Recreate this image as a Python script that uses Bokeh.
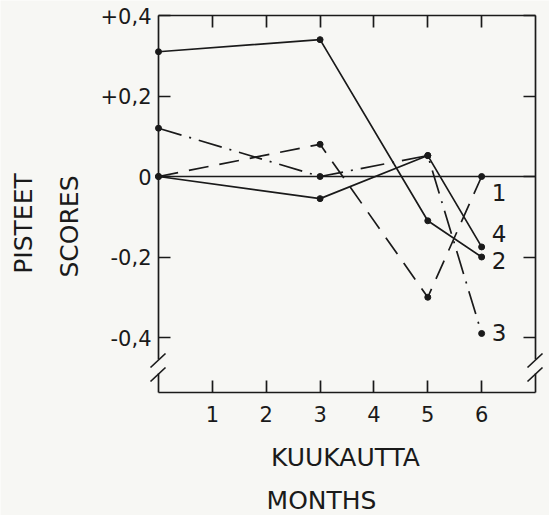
import math
from bokeh.plotting import figure
from bokeh.models import FixedTicker, LinearAxis, Range1d, Label
from bokeh.embed import file_html
from bokeh.resources import INLINE

# ---- data ----
months = [0, 3, 5, 6]
series_names = ["1", "2", "3", "4"]
s1 = [0.0, 0.08, -0.30, 0.0]
s2 = [0.31, 0.34, -0.11, -0.20]
s3 = [0.12, 0.0, 0.052, -0.39]
s4 = [0.0, -0.055, 0.052, -0.175]
x_ticks = [1, 2, 3, 4, 5, 6]
y_ticks = [0.4, 0.2, 0, -0.2, -0.4]
y_tick_labels = ["+0,4", "+0,2", "0", "-0,2", "-0,4"]
x_title = "KUUKAUTTA"
x_title2 = "MONTHS"
y_title = "PISTEET"
y_title2 = "SCORES"

# ---- layout: the frame covers the whole canvas, axes are fixed inside it ----
W, H = 549, 515
FL, FR, FT, FB = 158, 535, 15, 392          # drawn box, pixels
X_MIN, X_MAX = 0, 7
Y_TOP = 0.4
PX_X = (FR - FL) / (X_MAX - X_MIN)
PX_Y = 402.5
Y_BOT = Y_TOP - (FB - FT) / PX_Y
TXT_SHIFT = 10   # label baseline correction, pixels

def xd(px):
    return X_MIN + (px - FL) / PX_X

def yd(py):
    return Y_TOP - (py - FT) / PX_Y

BG = "#f7f7f4"
INK = "#1a1a1a"
FONT = "DejaVu Sans"
LW = 1.7

p = figure(width=W, height=H, x_range=Range1d(xd(0), xd(W)), y_range=Range1d(yd(H), yd(0)),
           output_backend="svg", toolbar_location=None,
           x_axis_location=None, y_axis_location=None,
           min_border_left=0, min_border_right=0, min_border_top=0, min_border_bottom=0)
p.background_fill_color = BG
p.border_fill_color = BG
p.outline_line_color = None
for g in p.grid:
    g.visible = False

gap_hi = yd(359)
gap_lo = yd(373)

def make_axis(ticks, loc, bounds, labels, line=True):
    ax = LinearAxis(ticker=FixedTicker(ticks=ticks), fixed_location=loc, bounds=bounds)
    ax.major_tick_in = 12
    ax.major_tick_out = 0
    ax.minor_tick_line_color = None
    ax.major_tick_line_color = INK
    ax.major_tick_line_width = LW
    ax.axis_line_color = INK if line else None
    ax.axis_line_width = LW
    ax.major_label_text_font = FONT
    if labels:
        ax.major_label_text_font_size = "21px"
        ax.major_label_text_color = INK
    else:
        ax.major_label_text_font_size = "1px"
        ax.major_label_text_color = None
        ax.major_label_standoff = 0
    return ax

bottom = make_axis(x_ticks, Y_BOT, (X_MIN, X_MAX), True)
bottom.major_label_standoff = 13
p.add_layout(bottom, "below")

top = make_axis(x_ticks, Y_TOP, (X_MIN, X_MAX), False)
p.add_layout(top, "above")

left = make_axis(y_ticks, X_MIN, (gap_hi, Y_TOP), True)
left.major_label_overrides = {t: lab for t, lab in zip(y_ticks, y_tick_labels)}
left.major_label_standoff = 7
p.add_layout(left, "left")

right = make_axis(y_ticks, X_MAX, (gap_hi, Y_TOP), False)
p.add_layout(right, "right")

# lower pieces of the broken side lines and the break strokes
p.segment(x0=[X_MIN, X_MAX], y0=[gap_lo, gap_lo], x1=[X_MIN, X_MAX], y1=[Y_BOT, Y_BOT],
          line_color=INK, line_width=LW)
bx0, by0, bx1, by1 = [], [], [], []
for xe in (X_MIN, X_MAX):
    for yc in (360, 374):
        bx0.append(xe - 8 / PX_X); by0.append(yd(yc + 7))
        bx1.append(xe + 7 / PX_X); by1.append(yd(yc - 7))
p.segment(x0=bx0, y0=by0, x1=bx1, y1=by1, line_color=INK, line_width=LW)

# zero reference line across the box
p.line([X_MIN, X_MAX], [0, 0], line_color=INK, line_width=1.5)

# series
dashes = ["20 11", "solid", "24 8 2 8", "solid"]
label_off = [-0.065, -0.034, -0.022, 0.009]
for name, ys, dash, off in zip(series_names, [s1, s2, s3, s4], dashes, label_off):
    p.line(months, ys, line_color=INK, line_width=LW, line_dash=dash)
    p.scatter(months, ys, size=6, color=INK)
    p.add_layout(Label(x=months[-1] + 10 / PX_X, y=ys[-1] + off + TXT_SHIFT / PX_Y, text=name,
                       text_font=FONT, text_font_size="23px", text_color=INK,
                       text_baseline="alphabetic", text_align="left"))

# axis titles
def title(text, px, py, angle=0.0):
    if angle:
        px -= TXT_SHIFT
    else:
        py -= TXT_SHIFT
    p.add_layout(Label(x=xd(px), y=yd(py), text=text, angle=angle, text_font=FONT,
                       text_font_size="25px", text_color=INK,
                       text_align="center", text_baseline="alphabetic"))

title(x_title, 345, 467)
title(x_title2, 321, 510)
title(y_title, 33, 223, math.pi / 2)
title(y_title2, 79, 226, math.pi / 2)

open("out.html", "w").write(file_html(p, INLINE))
